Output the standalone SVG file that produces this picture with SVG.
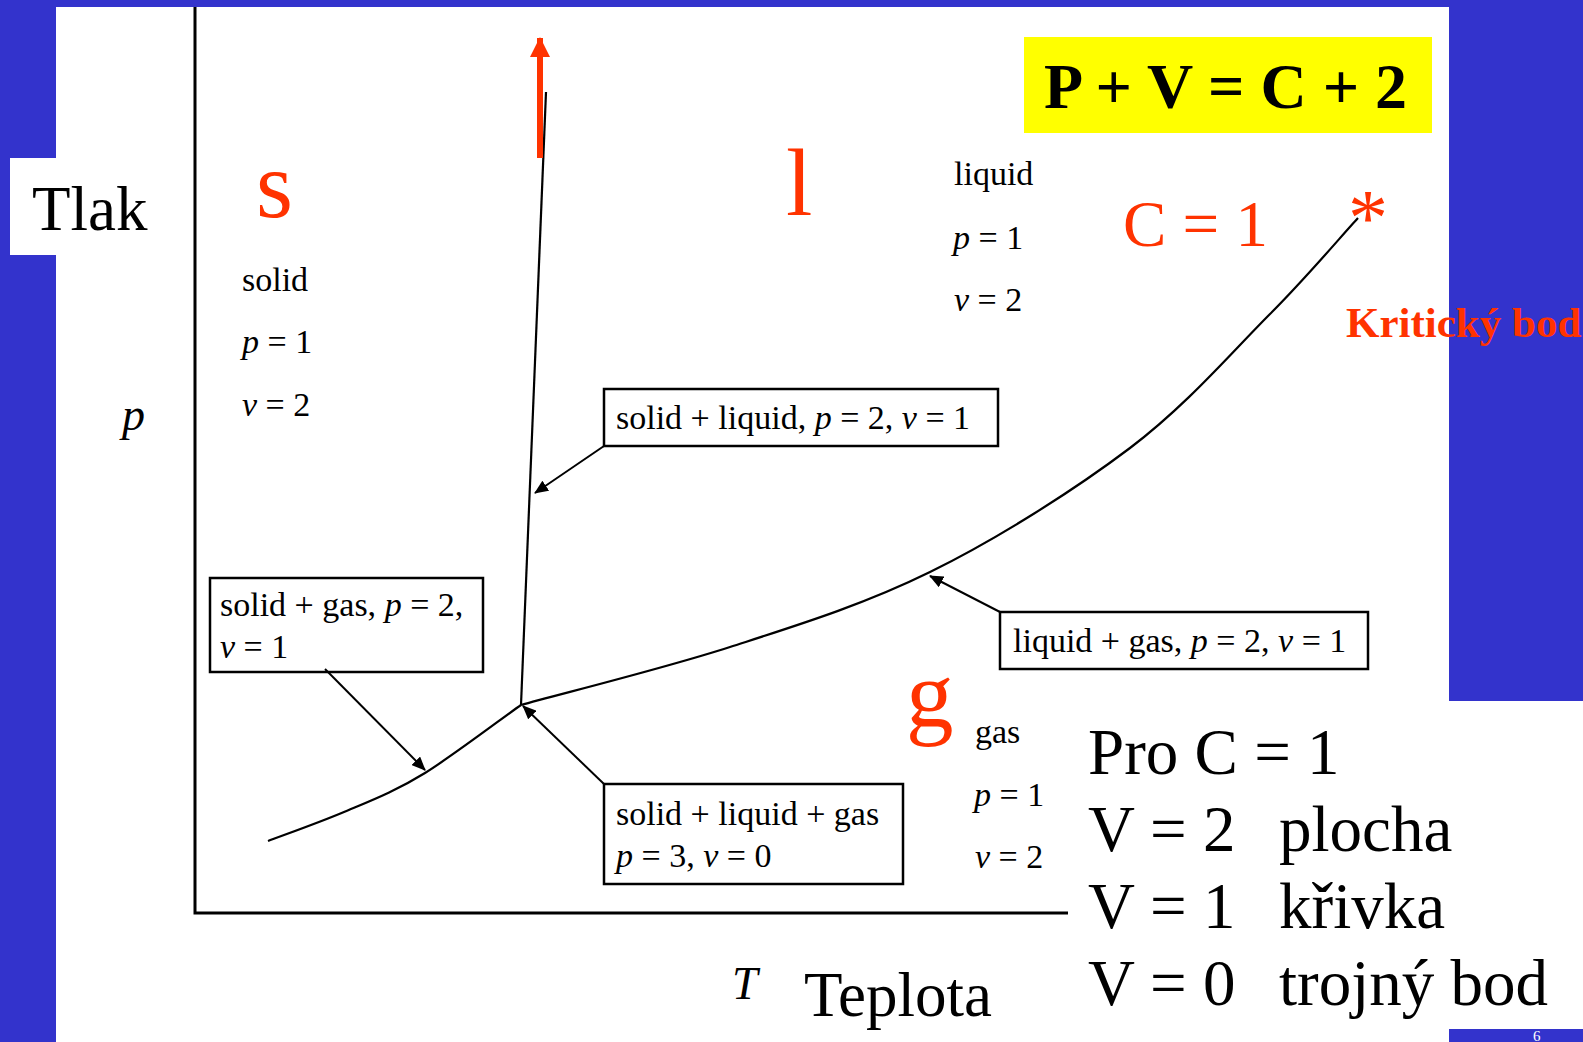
<svg xmlns="http://www.w3.org/2000/svg" width="1583" height="1042" viewBox="0 0 1583 1042">
<defs>
<style>
.sm{font-family:"Liberation Serif","Times New Roman",serif;font-size:34px;fill:#000}
.i{font-style:italic}
.big{font-family:"Liberation Serif","Times New Roman",serif;font-size:65px;fill:#000}
.red{fill:#FF3300}
.phase{font-family:"Liberation Serif","Times New Roman",serif;font-size:95px;fill:#FF3300}
.box{fill:#fff;stroke:#000;stroke-width:2.5}
.ln{fill:none;stroke:#000;stroke-width:2.2;stroke-linejoin:round}
.ar{fill:none;stroke:#000;stroke-width:2}
</style>
<marker id="ah" viewBox="0 0 14 12" refX="13" refY="6" markerWidth="14" markerHeight="12" markerUnits="userSpaceOnUse" orient="auto">
<path d="M0,0 L14,6 L0,12 z" fill="#000"/>
</marker>
<marker id="rh" viewBox="0 0 20 20" refX="19" refY="10" markerWidth="20" markerHeight="20" markerUnits="userSpaceOnUse" orient="auto">
<path d="M0,0 L20,10 L0,20 z" fill="#FF3300"/>
</marker>
</defs>

<!-- background -->
<rect x="0" y="0" width="1583" height="1042" fill="#3333CC"/>
<rect x="56" y="7" width="1393" height="1035" fill="#fff"/>
<rect x="1068" y="701" width="515" height="328" fill="#fff"/>
<rect id="tlakbg" x="10" y="158" width="60" height="97" fill="#fff"/>
<text x="1533" y="1041" font-family="Liberation Serif, serif" font-size="15" fill="#fff">6</text>

<!-- axes -->
<g id="axes">
<polyline points="195,7 195,913 1068,913" fill="none" stroke="#000" stroke-width="3"/>
</g>

<!-- phase boundaries -->
<g id="curves">
<path class="ln" d="M521,705 L546,92"/>
<path class="ln" d="M268,841 C281,836 318,823 344,812 C370,801 396,791 425,773 C454,755 505,716 521,705"/>
<path class="ln" d="M521,705 C556,695 662,669 730,647 C798,625 863,605 930,572 C997,539 1073,491 1130,448 C1187,405 1232,352 1270,314 C1308,276 1343,234 1358,218"/>
<line x1="540" y1="158" x2="540" y2="38" stroke="#FF3300" stroke-width="6" marker-end="url(#rh)"/>
</g>

<!-- axis labels -->
<g id="label-tlak"><text class="big" x="32" y="230" style="font-size:63px">Tlak</text></g>
<g id="label-p"><text class="sm i" x="122" y="430" style="font-size:46px">p</text></g>
<g id="label-T"><text class="sm i" x="732" y="999" style="font-size:46px">T</text></g>
<g id="label-teplota"><text class="big" x="804" y="1016" style="font-size:63px">Teplota</text></g>

<!-- formula -->
<g id="formula">
<rect x="1024" y="37" width="408" height="96" fill="#FFFF00"/>
<text class="big" x="1044" y="108" style="font-size:64px;font-weight:bold">P + V = C + 2</text>
</g>

<!-- regions -->
<g id="region-solid">
<text class="phase" x="256" y="217">s</text>
<text class="sm" x="242" y="291">solid</text>
<text class="sm" x="242" y="353"><tspan class="i">p</tspan> = 1</text>
<text class="sm" x="242" y="416"><tspan class="i">ν</tspan> = 2</text>
</g>
<g id="region-liquid">
<text class="phase" x="786" y="215">l</text>
<text class="sm" x="954" y="185">liquid</text>
<text class="sm" x="953" y="249"><tspan class="i">p</tspan> = 1</text>
<text class="sm" x="954" y="311"><tspan class="i">ν</tspan> = 2</text>
</g>
<g id="region-gas">
<text class="phase" x="906" y="727">g</text>
<text class="sm" x="975" y="743">gas</text>
<text class="sm" x="974" y="806"><tspan class="i">p</tspan> = 1</text>
<text class="sm" x="975" y="868"><tspan class="i">ν</tspan> = 2</text>
</g>

<g id="c-eq-1"><text class="big red" x="1123" y="246">C = 1</text></g>
<g id="critical-point">
<text x="1368" y="245" text-anchor="middle" font-family="Liberation Serif, serif" font-size="80" fill="#FF3300">*</text>
<text x="1346" y="337" font-family="Liberation Serif, serif" font-size="43" font-weight="bold" fill="#FF3300">Kritický bod</text>
</g>

<!-- annotation boxes -->
<g id="box-solid-liquid">
<rect class="box" x="604" y="389" width="394" height="57"/>
<text class="sm" x="616" y="429">solid + liquid, <tspan class="i">p</tspan> = 2, <tspan class="i">ν</tspan> = 1</text>
</g>
<g id="box-solid-gas">
<rect class="box" x="210" y="578" width="273" height="94"/>
<text class="sm" x="220" y="616">solid + gas, <tspan class="i">p</tspan> = 2,</text>
<text class="sm" x="220" y="658"><tspan class="i">ν</tspan> = 1</text>
</g>
<g id="box-triple">
<rect class="box" x="604" y="784" width="299" height="100"/>
<text class="sm" x="616" y="825">solid + liquid + gas</text>
<text class="sm" x="616" y="867"><tspan class="i">p</tspan> = 3, <tspan class="i">ν</tspan> = 0</text>
</g>
<g id="box-liquid-gas">
<rect class="box" x="1000" y="612" width="368" height="57"/>
<text class="sm" x="1013" y="652">liquid + gas, <tspan class="i">p</tspan> = 2, <tspan class="i">ν</tspan> = 1</text>
</g>

<!-- connectors -->
<g id="connectors">
<line class="ar" x1="604" y1="446" x2="535" y2="493" marker-end="url(#ah)"/>
<line class="ar" x1="325" y1="669" x2="425" y2="770" marker-end="url(#ah)"/>
<line class="ar" x1="604" y1="784" x2="523" y2="706" marker-end="url(#ah)"/>
<line class="ar" x1="1000" y1="612" x2="930" y2="576" marker-end="url(#ah)"/>
</g>

<!-- legend -->
<g id="legend">
<text class="big" x="1088" y="774">Pro C = 1</text>
<text class="big" x="1088" y="851">V = 2<tspan x="1279">plocha</tspan></text>
<text class="big" x="1088" y="928">V = 1<tspan x="1279">křivka</tspan></text>
<text class="big" x="1088" y="1005">V = 0<tspan x="1279">trojný bod</tspan></text>
</g>
</svg>
